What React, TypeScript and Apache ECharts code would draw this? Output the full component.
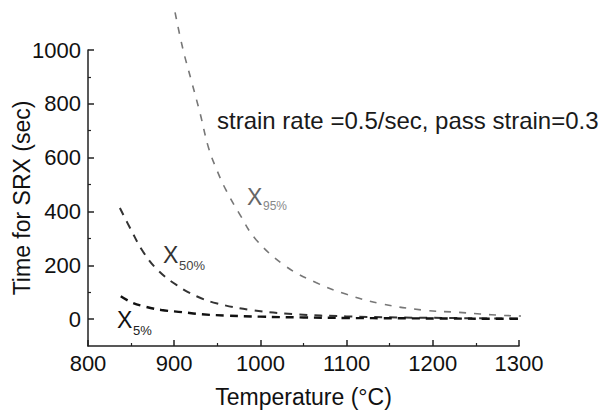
import React, { useEffect, useRef } from 'react';
import * as echarts from 'echarts';

// Axis ticks
const tempTicks = [800, 900, 1000, 1100, 1200, 1300];
const timeMajorTicks = [0, 200, 400, 600, 800, 1000];
const timeMinorTicks = [100, 300, 500, 700, 900];

// X95% curve (temperature °C, time s)
const x95Temp = [901, 910, 920, 930, 940, 950, 960, 975, 995, 1030, 1065, 1100, 1140, 1190, 1230, 1255, 1280, 1305, 1318];
const x95Time = [1140, 1005, 885, 765, 635, 550, 480, 395, 295, 195, 135, 92, 57, 33, 25, 19, 14, 11, 8];

// X50% curve
const x50Temp = [837, 850, 864, 881, 903, 926, 950, 990, 1040, 1100, 1160, 1220, 1280, 1320];
const x50Time = [413, 331, 250, 182, 126, 85, 58, 33, 18, 10, 6, 4, 2, 1];

// X5% curve
const x5Temp = [838, 850, 864, 885, 909, 932, 960, 1000, 1050, 1100, 1160, 1220, 1280, 1320];
const x5Time = [85, 63, 48, 34, 26, 18, 13, 9, 6, 4, 3, 2, 1, 1];

const annotation = 'strain rate =0.5/sec, pass strain=0.3';

const FONT = '"Liberation Sans", Arial, Helvetica, sans-serif';

function pairs(xs: number[], ys: number[]) {
  return xs.map((x, i) => [x, ys[i]]);
}

export default function App() {
  const ref = useRef<HTMLDivElement>(null);

  useEffect(() => {
    if (!ref.current) return;
    const chart = echarts.init(ref.current, null, { renderer: 'svg' });
    const axisColor = '#222';
    const labelFmt = (v: number) => (v >= 0 && v % 200 === 0 ? String(v) : '');
    chart.setOption({
      animation: false,
      backgroundColor: '#fff',
      grid: { left: 88, right: 87, top: 50, bottom: 67, containLabel: false, outerBoundsMode: 'none' },
      xAxis: {
        type: 'value',
        min: tempTicks[0],
        max: tempTicks[tempTicks.length - 1],
        interval: 100,
        name: 'Temperature (°C)',
        nameLocation: 'middle',
        nameGap: 39,
        nameMoveOverlap: false,
        nameTextStyle: { fontSize: 23, color: '#111', fontFamily: FONT },
        axisLine: { onZero: false, lineStyle: { color: axisColor, width: 1.5 } },
        axisTick: { inside: true, length: 6, lineStyle: { color: axisColor, width: 1.5 } },
        minorTick: { show: true, splitNumber: 2, length: 3, lineStyle: { color: axisColor, width: 1.2 } },
        axisLabel: { fontSize: 22, color: '#111', margin: 6, fontFamily: FONT, formatter: (v: number) => String(v) },
        splitLine: { show: false },
      },
      yAxis: [
        {
          type: 'value',
          min: -100,
          max: 1000,
          interval: 100,
          name: 'Time for SRX (sec)',
          nameLocation: 'middle',
          nameGap: 55,
          nameMoveOverlap: false,
          nameTextStyle: { fontSize: 23, color: '#111', fontFamily: FONT },
          axisLine: { show: true, onZero: false, lineStyle: { color: axisColor, width: 1.5 } },
          axisTick: { inside: true, length: 6, customValues: timeMajorTicks, lineStyle: { color: axisColor, width: 1.5 } },
          axisLabel: { fontSize: 22, color: '#111', margin: 7, fontFamily: FONT, customValues: timeMajorTicks, formatter: labelFmt },
          splitLine: { show: false },
        },
        {
          type: 'value',
          position: 'left',
          min: -100,
          max: 1000,
          interval: 100,
          axisLine: { show: false, onZero: false },
          axisTick: { inside: true, length: 3, customValues: timeMinorTicks, lineStyle: { color: axisColor, width: 1.2 } },
          axisLabel: { show: false },
          splitLine: { show: false },
        },
      ],
      series: [
        {
          name: 'X95%',
          type: 'line',
          data: pairs(x95Temp, x95Time),
          showSymbol: false,
          symbol: 'none',
          clip: false,
          smooth: 0.4,
          lineStyle: { color: '#777', width: 1.6, type: [7, 8] },
        },
        {
          name: 'X50%',
          type: 'line',
          data: pairs(x50Temp, x50Time),
          showSymbol: false,
          symbol: 'none',
          clip: false,
          smooth: 0.4,
          lineStyle: { color: '#333', width: 2, type: [8, 7] },
        },
        {
          name: 'X5%',
          type: 'line',
          data: pairs(x5Temp, x5Time),
          showSymbol: false,
          symbol: 'none',
          clip: false,
          smooth: 0.4,
          lineStyle: { color: '#111', width: 2.4, type: [8, 6] },
        },
      ],
      graphic: [
        { type: 'text', x: 217, y: 120, style: { text: annotation, fontSize: 24, fontFamily: FONT, fill: '#1a1a1a', align: 'left', verticalAlign: 'middle' } },
        { type: 'text', x: 247, y: 197, style: { text: 'X', fontSize: 23, fontFamily: FONT, fill: '#666', align: 'left', verticalAlign: 'middle' } },
        { type: 'text', x: 263, y: 206, style: { text: '95%', fontSize: 12, fontFamily: FONT, fill: '#888', align: 'left', verticalAlign: 'middle' } },
        { type: 'text', x: 163, y: 255, style: { text: 'X', fontSize: 23, fontFamily: FONT, fill: '#333', align: 'left', verticalAlign: 'middle' } },
        { type: 'text', x: 179, y: 265, style: { text: '50%', fontSize: 13, fontFamily: FONT, fill: '#444', align: 'left', verticalAlign: 'middle' } },
        { type: 'text', x: 117, y: 320, style: { text: 'X', fontSize: 23, fontFamily: FONT, fill: '#111', align: 'left', verticalAlign: 'middle' } },
        { type: 'text', x: 133, y: 330, style: { text: '5%', fontSize: 13, fontFamily: FONT, fill: '#222', align: 'left', verticalAlign: 'middle' } },
      ],
    });
    return () => chart.dispose();
  }, []);

  return <div ref={ref} style={{ position: 'fixed', left: 0, top: 0, width: 606, height: 413 }} />;
}
